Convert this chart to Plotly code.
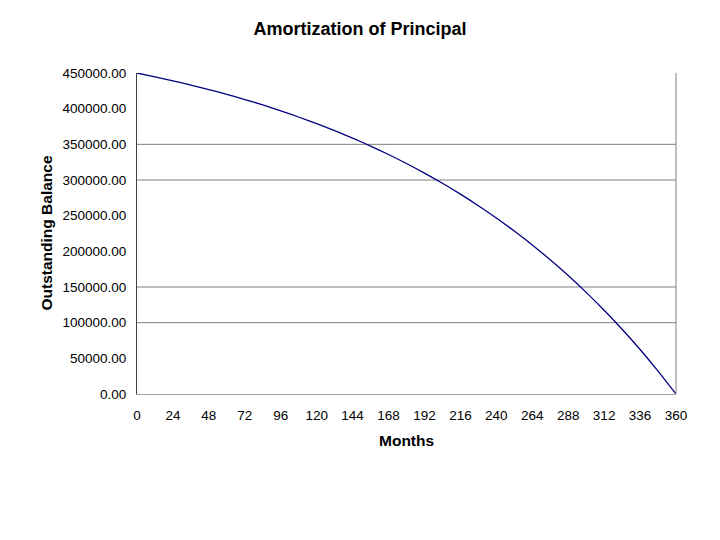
import plotly.graph_objects as go

# Data (outstanding balance at each 12 months)
months = [0, 12, 24, 36, 48, 60, 72, 84, 96, 108, 120, 132, 144, 156, 168, 180,
          192, 204, 216, 228, 240, 252, 264, 276, 288, 300, 312, 324, 336, 348, 360]
balance = [450000, 444700, 439100, 433100, 426800, 420000, 412800, 405150, 397000,
           388300, 379100, 369200, 358800, 347600, 335800, 323150, 309700, 295400,
           280200, 264000, 246800, 228400, 208900, 188100, 166000, 142500, 117400,
           90700, 62400, 32150, 0]

x_ticks = [0, 24, 48, 72, 96, 120, 144, 168, 192, 216, 240, 264, 288, 312, 336, 360]
y_ticks = [0, 50000, 100000, 150000, 200000, 250000, 300000, 350000, 400000, 450000]
grid_values = [100000, 150000, 300000, 350000]          # gridlines visible in the picture
y_tick_marks = [0, 100000, 150000, 300000, 350000, 450000]
x_tick_marks = [216, 264, 312, 360]

FONT = "Liberation Sans, Arial, sans-serif"

fig = go.Figure()
fig.add_trace(go.Scatter(
    x=months, y=balance, mode="lines",
    line=dict(color="#000080", width=1.3, shape="spline", smoothing=0.6),
    showlegend=False, hoverinfo="x+y",
))

shapes = []
for v in grid_values:
    shapes.append(dict(type="line", xref="x", yref="y", x0=0, x1=360, y0=v, y1=v,
                       line=dict(color="#808080", width=1), layer="below"))
for v in y_tick_marks:
    shapes.append(dict(type="line", xref="x", yref="y", xsizemode="pixel", xanchor=0,
                       x0=-6, x1=0, y0=v, y1=v, line=dict(color="#404040", width=1)))
for m in x_tick_marks:
    shapes.append(dict(type="line", xref="x", yref="y", ysizemode="pixel", yanchor=0,
                       x0=m, x1=m, y0=0, y1=-5, line=dict(color="#909090", width=1)))
# right border of plot area
shapes.append(dict(type="line", xref="paper", yref="paper", x0=1, x1=1, y0=0, y1=1,
                   line=dict(color="#808080", width=1)))

fig.update_layout(
    width=720, height=540,
    margin=dict(l=129, r=52, t=65, b=154, autoexpand=False),
    paper_bgcolor="white", plot_bgcolor="white",
    font=dict(family=FONT, color="black", size=13),
    title=dict(text="<b>Amortization of Principal</b>", x=352 / 720, xref="container",
               xanchor="center", y=1 - 21 / 540, yref="container", yanchor="middle",
               font=dict(family=FONT, size=18, color="black")),
    shapes=shapes,
    annotations=[
        dict(text="<b>Months</b>", xref="paper", yref="paper", x=0.5, y=0,
             xanchor="center", yanchor="middle", yshift=-46, showarrow=False,
             font=dict(family=FONT, size=15.5, color="black")),
        dict(text="<b>Outstanding Balance</b>", xref="paper", yref="paper", x=0, y=0.5,
             xanchor="center", yanchor="middle", xshift=-91, textangle=-90, showarrow=False,
             font=dict(family=FONT, size=15.5, color="black")),
    ],
)
fig.update_xaxes(range=[0, 360], tickvals=x_ticks, ticktext=[str(t) for t in x_ticks],
                 showgrid=False, zeroline=False, showline=True, linecolor="#a0a0a0",
                 linewidth=1, ticks="outside", ticklen=9, tickcolor="rgba(0,0,0,0)",
                 tickfont=dict(family=FONT, size=13.5, color="black"))
fig.update_yaxes(range=[0, 450000], tickvals=y_ticks, tickformat=".2f",
                 showgrid=False, zeroline=False, showline=True, linecolor="#404040",
                 linewidth=1, ticks="outside", ticklen=7, tickcolor="rgba(0,0,0,0)",
                 tickfont=dict(family=FONT, size=13.5, color="black"))

fig.write_html("out.html")
